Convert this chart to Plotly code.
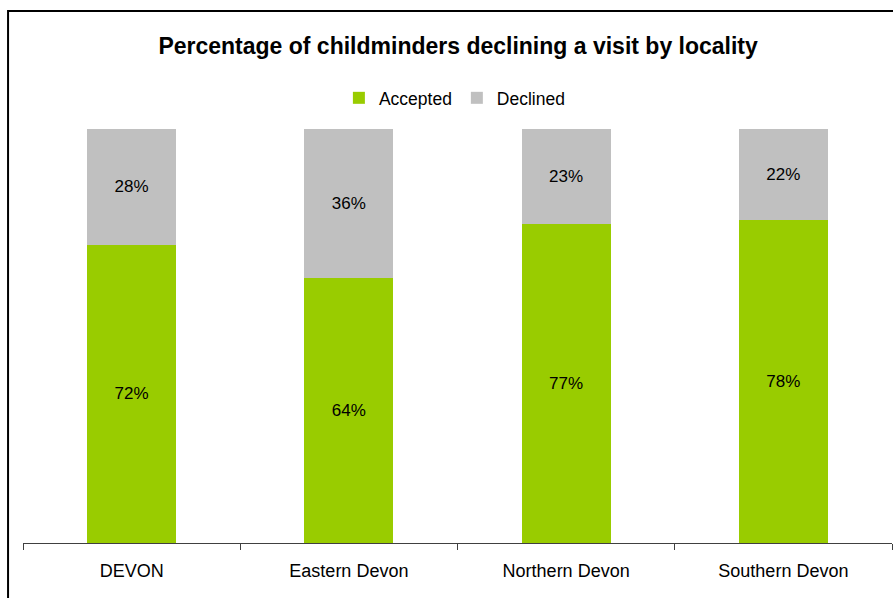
import plotly.graph_objects as go

# values (percent)
localities = ['DEVON', 'Eastern Devon', 'Northern Devon', 'Southern Devon']
accepted = [72, 64, 77, 78]
declined = [28, 36, 23, 22]

fig = go.Figure()

fig.add_trace(go.Bar(
    x=localities,
    y=accepted,
    name='Accepted',
    marker_color='#99CC00',
    marker_line_width=0,
    text=[f'{v}%' for v in accepted],
    textposition='inside',
    insidetextanchor='middle',
    textfont=dict(size=17, color='black'),
))

fig.add_trace(go.Bar(
    x=localities,
    y=declined,
    name='Declined',
    marker_color='#C0C0C0',
    marker_line_width=0,
    text=[f'{v}%' for v in declined],
    textposition='inside',
    insidetextanchor='middle',
    textfont=dict(size=17, color='black'),
))

fig.update_layout(
    width=893, height=598,
    barmode='stack',
    bargap=0.59,
    plot_bgcolor='white',
    paper_bgcolor='white',
    font=dict(family='Liberation Sans, Arial, sans-serif', size=17, color='black'),
    margin=dict(l=23, r=1, t=129, b=55),
    title=dict(
        text='<b>Percentage of childminders declining a visit by locality</b>',
        x=0.513, xanchor='center', y=0.923, yanchor='middle',
        font=dict(size=23),
    ),
    legend=dict(
        orientation='h',
        x=0.497, xanchor='center', y=1.075, yanchor='middle',
        font=dict(size=17.5),
        itemwidth=30,
        traceorder='normal',
    ),
    uniformtext=dict(mode='show', minsize=10),
    showlegend=True,
)

fig.update_xaxes(
    showline=True, linecolor='#404040', linewidth=1,
    ticks='outside', tickson='boundaries', ticklen=6, tickcolor='#404040',
    ticklabelstandoff=11,
    showgrid=False,
    tickfont=dict(size=18),
)
fig.update_yaxes(
    range=[0, 100], visible=False, showgrid=False,
)

# outer border of the chart, running off the right and bottom edges
fig.add_shape(
    type='rect', xref='paper', yref='paper',
    x0=-0.0172, x1=1.05, y0=-0.2, y1=1.285,
    line=dict(color='black', width=2),
    fillcolor='rgba(0,0,0,0)',
    layer='above',
)

fig.write_html('out.html', config={'displayModeBar': False},
               post_script="document.body.style.margin='0';")
